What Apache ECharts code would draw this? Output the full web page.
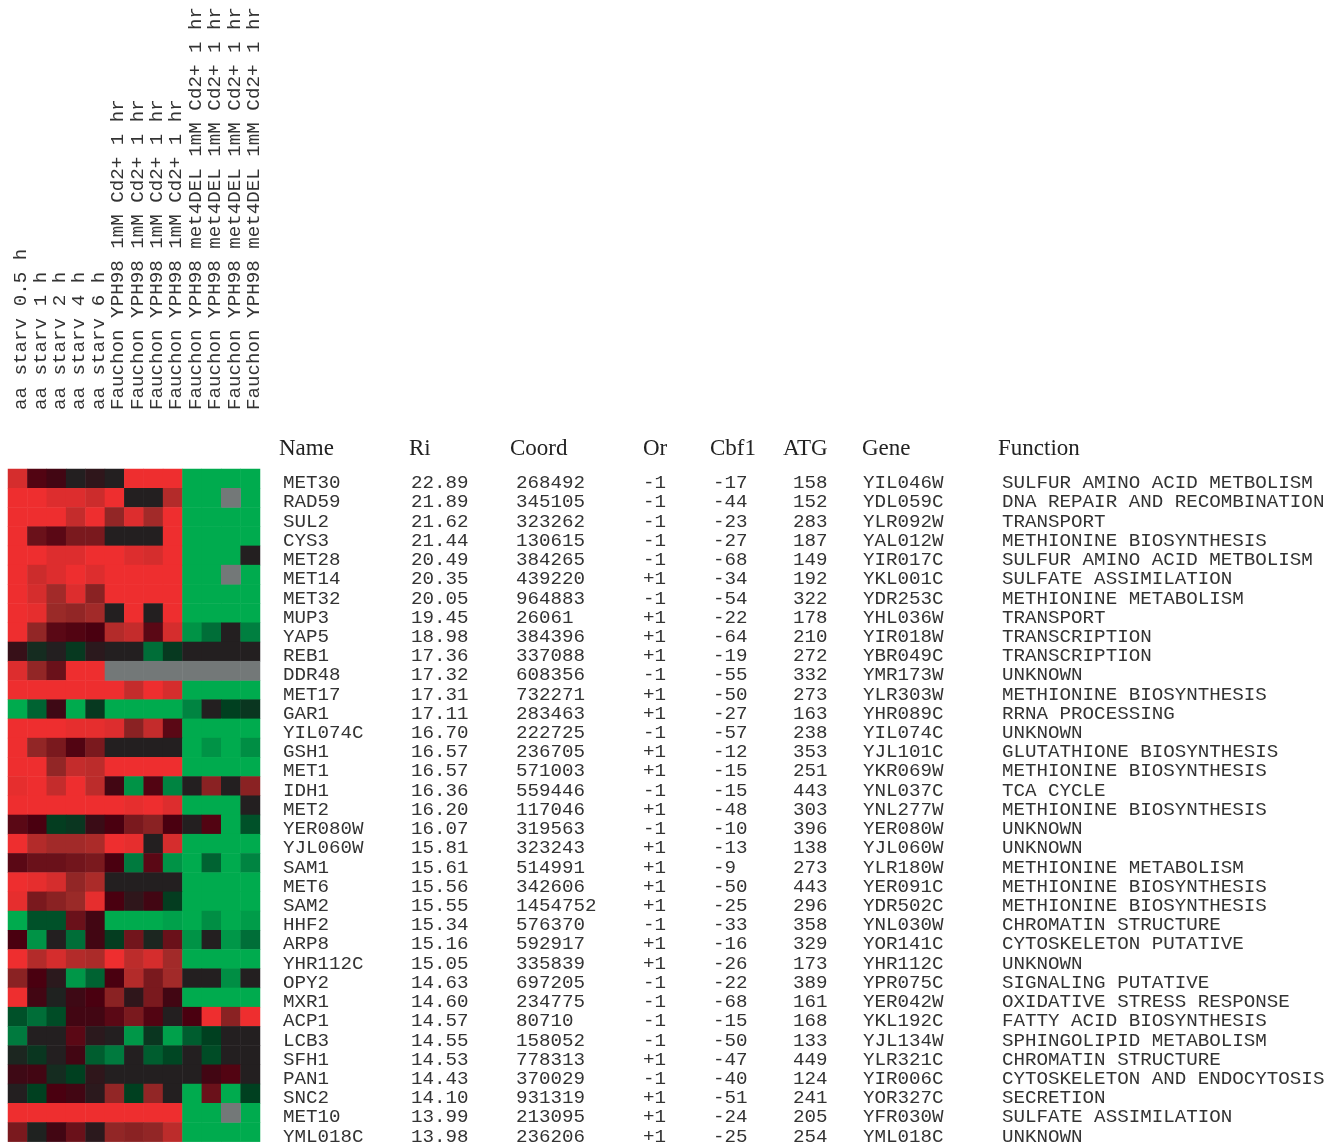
<!DOCTYPE html>
<html>
<head>
<meta charset="utf-8">
<script src="https://cdn.jsdelivr.net/npm/echarts@6/dist/echarts.min.js"></script>
<style>
  html, body { margin: 0; padding: 0; background: #fff; }
  #chart { width: 1337px; height: 1146px; }
</style>
</head>
<body>
<div id="chart"></div>
<script>
// Experiment columns (heatmap x categories)
const conditions = [
  'aa starv 0.5 h', 'aa starv 1 h', 'aa starv 2 h', 'aa starv 4 h', 'aa starv 6 h',
  'Fauchon YPH98 1mM Cd2+ 1 hr', 'Fauchon YPH98 1mM Cd2+ 1 hr',
  'Fauchon YPH98 1mM Cd2+ 1 hr', 'Fauchon YPH98 1mM Cd2+ 1 hr',
  'Fauchon YPH98 met4DEL 1mM Cd2+ 1 hr', 'Fauchon YPH98 met4DEL 1mM Cd2+ 1 hr',
  'Fauchon YPH98 met4DEL 1mM Cd2+ 1 hr', 'Fauchon YPH98 met4DEL 1mM Cd2+ 1 hr'
];

// Table columns, one entry per gene row
const names = ['MET30','RAD59','SUL2','CYS3','MET28','MET14','MET32','MUP3','YAP5','REB1',
  'DDR48','MET17','GAR1','YIL074C','GSH1','MET1','IDH1','MET2','YER080W','YJL060W',
  'SAM1','MET6','SAM2','HHF2','ARP8','YHR112C','OPY2','MXR1','ACP1','LCB3',
  'SFH1','PAN1','SNC2','MET10','YML018C'];
const ri = ['22.89','21.89','21.62','21.44','20.49','20.35','20.05','19.45','18.98','17.36',
  '17.32','17.31','17.11','16.70','16.57','16.57','16.36','16.20','16.07','15.81',
  '15.61','15.56','15.55','15.34','15.16','15.05','14.63','14.60','14.57','14.55',
  '14.53','14.43','14.10','13.99','13.98'];
const coord = ['268492','345105','323262','130615','384265','439220','964883','26061','384396','337088',
  '608356','732271','283463','222725','236705','571003','559446','117046','319563','323243',
  '514991','342606','1454752','576370','592917','335839','697205','234775','80710','158052',
  '778313','370029','931319','213095','236206'];
const orient = ['-1','-1','-1','-1','-1','+1','-1','+1','+1','+1',
  '-1','+1','+1','-1','+1','+1','-1','+1','-1','+1',
  '+1','+1','+1','-1','+1','+1','-1','-1','-1','-1',
  '+1','-1','+1','+1','+1'];
const cbf1 = ['-17','-44','-23','-27','-68','-34','-54','-22','-64','-19',
  '-55','-50','-27','-57','-12','-15','-15','-48','-10','-13',
  '-9','-50','-25','-33','-16','-26','-22','-68','-15','-50',
  '-47','-40','-51','-24','-25'];
const atg = ['158','152','283','187','149','192','322','178','210','272',
  '332','273','163','238','353','251','443','303','396','138',
  '273','443','296','358','329','173','389','161','168','133',
  '449','124','241','205','254'];
const orf = ['YIL046W','YDL059C','YLR092W','YAL012W','YIR017C','YKL001C','YDR253C','YHL036W','YIR018W','YBR049C',
  'YMR173W','YLR303W','YHR089C','YIL074C','YJL101C','YKR069W','YNL037C','YNL277W','YER080W','YJL060W',
  'YLR180W','YER091C','YDR502C','YNL030W','YOR141C','YHR112C','YPR075C','YER042W','YKL192C','YJL134W',
  'YLR321C','YIR006C','YOR327C','YFR030W','YML018C'];
const func = ['SULFUR AMINO ACID METBOLISM','DNA REPAIR AND RECOMBINATION','TRANSPORT','METHIONINE BIOSYNTHESIS',
  'SULFUR AMINO ACID METBOLISM','SULFATE ASSIMILATION','METHIONINE METABOLISM','TRANSPORT','TRANSCRIPTION',
  'TRANSCRIPTION','UNKNOWN','METHIONINE BIOSYNTHESIS','RRNA PROCESSING','UNKNOWN','GLUTATHIONE BIOSYNTHESIS',
  'METHIONINE BIOSYNTHESIS','TCA CYCLE','METHIONINE BIOSYNTHESIS','UNKNOWN','UNKNOWN','METHIONINE METABOLISM',
  'METHIONINE BIOSYNTHESIS','METHIONINE BIOSYNTHESIS','CHROMATIN STRUCTURE','CYTOSKELETON PUTATIVE','UNKNOWN',
  'SIGNALING PUTATIVE','OXIDATIVE STRESS RESPONSE','FATTY ACID BIOSYNTHESIS','SPHINGOLIPID METABOLISM',
  'CHROMATIN STRUCTURE','CYTOSKELETON AND ENDOCYTOSIS','SECRETION','SULFATE ASSIMILATION','UNKNOWN'];

const headers = ['Name','Ri','Coord','Or','Cbf1','ATG','Gene','Function'];

// Log-ratio per gene (rows) and condition (columns); null = no measurement
const expr = [
  [2.7, 1.1, 0.8, 0, 0.3, 0, 3, 3, 3, -3, -3, -3, -3],
  [3, 3, 2.8, 2.8, 2.6, 3, 0, 0, 2.3, -3, -3, null, -3],
  [3, 3, 3, 2.5, 3, 1.9, 2.8, 2.1, 3, -3, -3, -3, -3],
  [3, 1.4, 1.2, 1.6, 1.6, 0, 0, 0, 3, -3, -3, -3, -3],
  [3, 3, 2.8, 2.8, 3, 3, 2.8, 2.7, 3, -3, -3, -3, 0],
  [3, 2.6, 2.8, 3, 2.8, 3, 3, 3, 3, -3, -3, null, -3],
  [3, 2.7, 2.1, 2.8, 1.8, 3, 3, 3, 3, -3, -3, -3, -3],
  [3, 2.9, 2.0, 1.9, 2.1, 0, 3, 0, 3, -3, -3, -3, -3],
  [3, 1.9, 1.2, 1.1, 1.0, 2.3, 2.5, 1.2, 2.7, -2.5, -1.8, 0, -2.1],
  [0.5, -0.4, 0, -0.8, 0.2, 0, 0, -1.8, -0.8, 0, 0, 0, 0],
  [2.8, 1.9, 1.4, 3, 3, null, null, null, null, null, null, null, null],
  [3, 3, 3, 3, 3, 3, 2.5, 3, 2.7, -3, -3, -3, -3],
  [-3, -1.6, 0.7, -3, -0.8, -3, -3, -3, -3, -2.2, 0, -1.0, -0.7],
  [3, 3, 3, 2.9, 2.9, 2.8, 1.8, 2.5, 1.2, -3, -3, -3, -3],
  [3, 1.9, 1.6, 1.1, 1.6, 0, 0, 0, 0, -3, -2.5, -3, -2.4],
  [3, 3, 1.9, 2.5, 2.4, 3, 3, 3, 3, -3, -3, -3, -3],
  [2.9, 3, 2.5, 3, 2.4, 0.8, -2.5, 1.1, -2.2, 0, 1.8, 0, 1.8],
  [3, 3, 3, 3, 3, 3, 2.9, 3, 2.8, -3, -3, -3, 0],
  [1.2, 1.0, -0.9, -0.7, 0.6, 1.0, 1.6, 1.8, 1.0, 0, 1.1, -3, -1.3],
  [3, 2.3, 2.1, 2.1, 2.2, 3, 2.9, 0, 2.7, -3, -3, -3, -3],
  [1.2, 1.4, 1.4, 1.5, 1.6, 1.0, -2.0, 1.2, -2.5, -3, -1.6, -3, -2.2],
  [3, 2.9, 2.7, 1.9, 2.2, 0, 0, 0, 0, -3, -3, -3, -3],
  [2.9, 1.6, 1.8, 2.0, 2.9, 1.0, 0.3, 0.8, -0.9, -3, -3, -3, -3],
  [-3, -1.3, -1.3, 1.4, 0.8, -3, -3, -3, -2.8, -3, -2.4, -3, -2.7],
  [1.0, -2.5, 0, -1.8, 0.8, -0.9, 1.5, -0.2, 1.4, -2.5, 0, -2.6, -1.8],
  [3, 2.3, 2.7, 2.3, 2.2, 3, 2.4, 2.7, 2.1, -3, -3, -3, -3],
  [1.8, 1.0, 0.2, -2.6, -1.6, 1.0, 2.3, 1.6, 2.1, 0, 0, -2.4, 0],
  [3, 0.8, -0.1, 0.7, 1.0, 1.8, 0.3, 1.6, 0.8, -3, -3, -3, -3],
  [-1.3, -1.8, -1.2, 0.8, 0.8, 1.2, 1.6, 1.1, 0, 1.0, 3, 1.8, 3],
  [-2.0, 0, 0, 1.2, 0.2, 0, -2.6, -0.7, -2.8, -1.5, -1.0, 0, 0],
  [-0.2, -0.7, 0, 0.8, -1.5, -2.0, 0, -1.5, -1.1, 0, -1.2, 0, 0],
  [0.7, 0.8, -0.4, -1.0, 0.3, 0, 0, 0, 0, 0, 0.8, 1.1, 0],
  [0, -1.0, 1.0, 0.8, 0.2, 1.9, -1.0, 1.9, 0, -3, 1.4, -3, -1.0],
  [3, 3, 3, 3, 3, 3, 3, 3, 3, -3, -3, null, -3],
  [1.6, -0.1, 0.8, 1.4, 0.2, 1.9, 1.8, 1.9, 2.4, -3, -3, -3, -3]
];

// Build heatmap cells [col, row, value]; missing cells go to their own series
const cells = [];
const missing = [];
expr.forEach((row, r) => row.forEach((v, c) => {
  if (v === null) missing.push([c, r, 0]);
  else cells.push([c, r, v]);
}));

const MONO = '"Liberation Mono", "Courier New", monospace';
const SERIF = '"Liberation Serif", "Times New Roman", serif';
const GRID_RIGHT = 260;

// Table columns drawn as extra category y axes sharing the heatmap rows
const tableCols = [
  { data: names, x: 283 },
  { data: ri, x: 411 },
  { data: coord, x: 516 },
  { data: orient, x: 643 },
  { data: cbf1, x: 713 },
  { data: atg, x: 793 },
  { data: orf, x: 863 },
  { data: func, x: 1002 }
];
const headerX = [279, 409, 510, 643, 710, 783, 862, 998];

const yAxes = tableCols.map((col) => ({
  type: 'category',
  data: col.data.map((_, i) => String(i)),
  inverse: true,
  position: 'right',
  offset: col.x - GRID_RIGHT,
  gridIndex: 0,
  axisLine: { show: false },
  axisTick: { show: false },
  splitLine: { show: false },
  axisLabel: {
    interval: 0,
    margin: 0,
    align: 'left',
    verticalAlign: 'top',
    lineHeight: 9,
    fontFamily: MONO,
    fontSize: 19.2,
    color: '#333',
    formatter: (v, i) => col.data[i]
  }
}));

const chart = echarts.init(document.getElementById('chart'), null, { renderer: 'canvas' });
chart.setOption({
  animation: false,
  backgroundColor: '#fff',
  grid: { left: 8, top: 469, width: 252, height: 677 },
  xAxis: {
    type: 'category',
    position: 'top',
    data: conditions,
    axisLine: { show: false },
    axisTick: { show: false },
    splitLine: { show: false },
    axisLabel: {
      interval: 0,
      rotate: -90,
      margin: 59,
      verticalAlign: 'top',
      lineHeight: 7,
      fontFamily: MONO,
      fontSize: 19.2,
      color: '#333'
    }
  },
  yAxis: yAxes,
  visualMap: {
    show: false,
    type: 'continuous',
    seriesIndex: 0,
    min: -3,
    max: 3,
    inRange: {
      color: ['#00AB4E', '#007A3E', '#004020', '#231F20', '#4A0010', '#9A2A28', '#EE2E2F']
    }
  },
  graphic: headers.map((h, i) => ({
    type: 'text',
    left: headerX[i],
    top: 437,
    style: { text: h, font: '23px ' + SERIF, fill: '#222' }
  })),
  series: [
    {
      type: 'heatmap',
      xAxisIndex: 0,
      yAxisIndex: 0,
      data: cells,
      itemStyle: { borderWidth: 0 },
      emphasis: { disabled: true }
    },
    {
      type: 'heatmap',
      xAxisIndex: 0,
      yAxisIndex: 0,
      data: missing,
      itemStyle: { color: '#737878', borderWidth: 0 },
      emphasis: { disabled: true }
    }
  ]
});
</script>
</body>
</html>
